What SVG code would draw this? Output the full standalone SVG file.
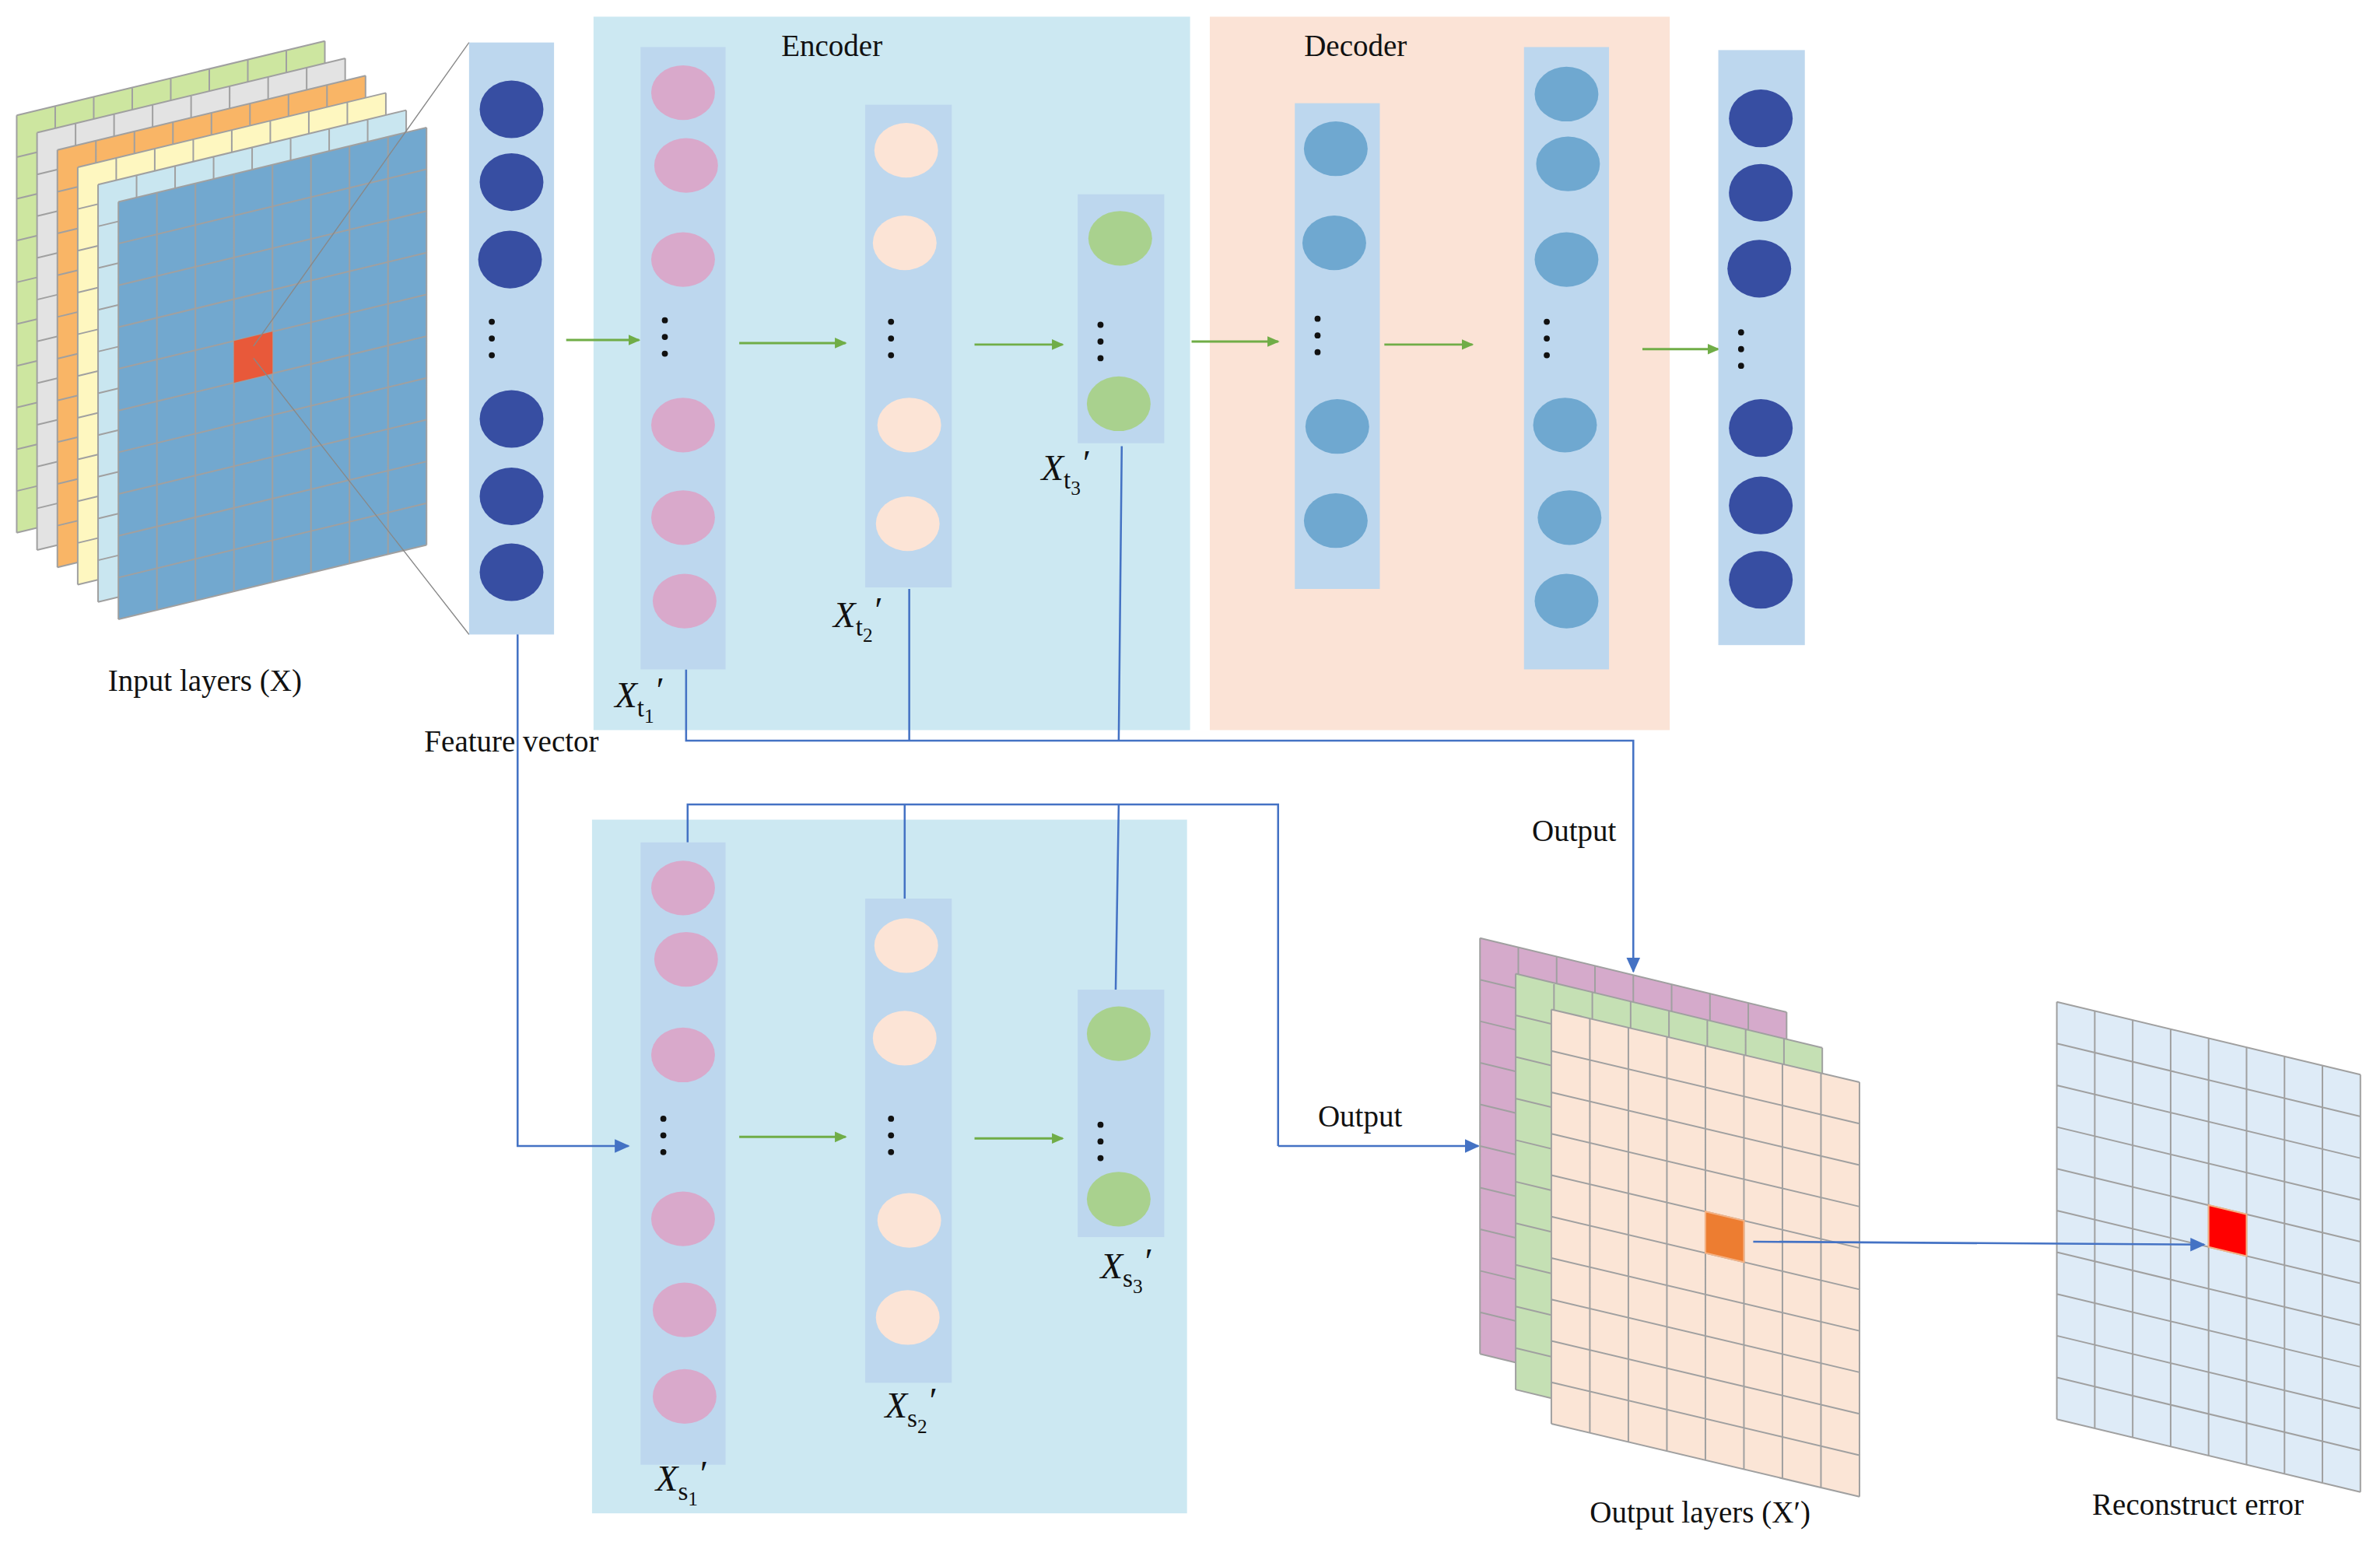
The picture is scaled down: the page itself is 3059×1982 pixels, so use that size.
<svg xmlns="http://www.w3.org/2000/svg" xmlns:xlink="http://www.w3.org/1999/xlink" width="3059" height="1982" viewBox="0 0 3059 1982">
<style>
.gl{stroke:#A0A0A0;stroke-width:2;vector-effect:non-scaling-stroke;fill:none}
.col{fill:#BDD7EE}
.nv{fill:#374EA2}.pk{fill:#D9A9CB}.pc{fill:#FCE4D6}.gr{fill:#A9D18E}.bl{fill:#6FA8D0}
.dot{fill:#111}
.ga{stroke:#70AD47;stroke-width:1.5;fill:none;marker-end:url(#ag)}
.ba{stroke:#4472C4;stroke-width:1.3;fill:none}
.bam{marker-end:url(#ab)}
.lbl{font-family:"Liberation Serif",serif;font-size:20px;fill:#111}
.mx{font-family:"Liberation Serif",serif;font-size:24px;font-style:italic;fill:#111}
.thin{stroke:#888;stroke-width:0.7;fill:none}
</style>
<defs>
<marker id="ag" markerWidth="8" markerHeight="8" refX="7" refY="4" orient="auto" markerUnits="userSpaceOnUse"><path d="M0,0.5 L8,4 L0,7.5z" fill="#70AD47"/></marker>
<marker id="ab" markerWidth="10" markerHeight="10" refX="9" refY="5" orient="auto" markerUnits="userSpaceOnUse"><path d="M0,0.5 L10,5 L0,9.5z" fill="#4472C4"/></marker>
<g id="grid">
<path class="gl" d="M0,0V10M1,0V10M2,0V10M3,0V10M4,0V10M5,0V10M6,0V10M7,0V10M8,0V10M0,0H8M0,1H8M0,2H8M0,3H8M0,4H8M0,5H8M0,6H8M0,7H8M0,8H8M0,9H8M0,10H8"/>
</g>
<g id="dots"><circle cx="0" cy="0" r="2"/><circle cx="0" cy="11" r="2"/><circle cx="0" cy="22" r="2"/></g>
</defs>
<rect width="3059" height="1982" fill="#fff"/>
<g transform="scale(1.951)">
<g id="input-layers">
<g transform="matrix(25.375,-6.125,0,27.5,11,76)"><rect width="8" height="10" fill="#CDE6A0"/><use xlink:href="#grid"/></g>
<g transform="matrix(25.375,-6.125,0,27.5,24.4,87.4)"><rect width="8" height="10" fill="#E3E3E3"/><use xlink:href="#grid"/></g>
<g transform="matrix(25.375,-6.125,0,27.5,37.8,98.8)"><rect width="8" height="10" fill="#F9B566"/><use xlink:href="#grid"/></g>
<g transform="matrix(25.375,-6.125,0,27.5,51.2,110.2)"><rect width="8" height="10" fill="#FEF7C0"/><use xlink:href="#grid"/></g>
<g transform="matrix(25.375,-6.125,0,27.5,64.6,121.6)"><rect width="8" height="10" fill="#C9E6F0"/><use xlink:href="#grid"/></g>
<g transform="matrix(25.375,-6.125,0,27.5,78,133)"><rect width="8" height="10" fill="#72A8CF"/><use xlink:href="#grid"/><rect x="3" y="4" width="1" height="1" fill="#E8593A"/></g>
<path class="thin" d="M167,228 L309,28 M167,236 L309,418"/>
<text class="lbl" x="135" y="455" text-anchor="middle">Input layers (X)</text>
</g>
<g id="encoder-panel"><rect x="391" y="11" width="393" height="470" fill="#CCE8F2"/><text class="lbl" x="548" y="37" text-anchor="middle">Encoder</text></g>
<g id="decoder-panel"><rect x="797" y="11" width="303" height="470" fill="#FBE3D6"/><text class="lbl" x="893" y="37" text-anchor="middle">Decoder</text></g>
<g id="bottom-panel"><rect x="390" y="540" width="392" height="457" fill="#CCE8F2"/></g>
<g id="connectors">
<path class="ga" d="M373,224H421"/><path class="ga" d="M487,226H557"/><path class="ga" d="M642,227H700"/><path class="ga" d="M785,225H842"/><path class="ga" d="M912,227H970"/><path class="ga" d="M1082,230H1132"/>
<path class="ga" d="M487,749H557"/><path class="ga" d="M642,750H700"/>
<path class="ba bam" d="M341,395V755H414"/>
<path class="ba bam" d="M452,441V488H1076V640"/>
<path class="ba" d="M599,388V488M739,294L737,488"/>
<path class="ba" d="M453,555V530H842V755"/>
<path class="ba bam" d="M842,755H974"/>
<path class="ba" d="M596,530V592M737,530L735,652"/>
</g>
<g id="feature-vector">
<rect class="col" x="309" y="28" width="56" height="390"/>
<ellipse class="nv" cx="337" cy="72" rx="21" ry="19"/><ellipse class="nv" cx="337" cy="120" rx="21" ry="19"/><ellipse class="nv" cx="336" cy="171" rx="21" ry="19"/>
<use xlink:href="#dots" x="324" y="212" class="dot"/>
<ellipse class="nv" cx="337" cy="276" rx="21" ry="19"/><ellipse class="nv" cx="337" cy="327" rx="21" ry="19"/><ellipse class="nv" cx="337" cy="377" rx="21" ry="19"/>
<text class="lbl" x="337" y="495" text-anchor="middle">Feature vector</text>
</g>
<g id="enc1">
<rect class="col" x="422" y="31" width="56" height="410"/>
<ellipse class="pk" cx="450" cy="61" rx="21" ry="18"/><ellipse class="pk" cx="452" cy="109" rx="21" ry="18"/><ellipse class="pk" cx="450" cy="171" rx="21" ry="18"/>
<use xlink:href="#dots" x="438" y="211" class="dot"/>
<ellipse class="pk" cx="450" cy="280" rx="21" ry="18"/><ellipse class="pk" cx="450" cy="341" rx="21" ry="18"/><ellipse class="pk" cx="451" cy="396" rx="21" ry="18"/>
<text class="mx" x="405" y="466">X<tspan font-style="normal" font-size="17" dy="6">t</tspan><tspan font-style="normal" font-size="13" dy="4">1</tspan><tspan dy="-13">′</tspan></text>
</g>
<g id="enc2">
<rect class="col" x="570" y="69" width="57" height="318"/>
<ellipse class="pc" cx="597" cy="99" rx="21" ry="18"/><ellipse class="pc" cx="596" cy="160" rx="21" ry="18"/>
<use xlink:href="#dots" x="587" y="212" class="dot"/>
<ellipse class="pc" cx="599" cy="280" rx="21" ry="18"/><ellipse class="pc" cx="598" cy="345" rx="21" ry="18"/>
<text class="mx" x="549" y="413">X<tspan font-style="normal" font-size="17" dy="6">t</tspan><tspan font-style="normal" font-size="13" dy="4">2</tspan><tspan dy="-13">′</tspan></text>
</g>
<g id="enc3">
<rect class="col" x="710" y="128" width="57" height="164"/>
<ellipse class="gr" cx="738" cy="157" rx="21" ry="18"/>
<use xlink:href="#dots" x="725" y="214" class="dot"/>
<ellipse class="gr" cx="737" cy="266" rx="21" ry="18"/>
<text class="mx" x="686" y="316">X<tspan font-style="normal" font-size="17" dy="6">t</tspan><tspan font-style="normal" font-size="13" dy="4">3</tspan><tspan dy="-13">′</tspan></text>
</g>
<g id="dec1">
<rect class="col" x="853" y="68" width="56" height="320"/>
<ellipse class="bl" cx="880" cy="98" rx="21" ry="18"/><ellipse class="bl" cx="879" cy="160" rx="21" ry="18"/>
<use xlink:href="#dots" x="868" y="210" class="dot"/>
<ellipse class="bl" cx="881" cy="281" rx="21" ry="18"/><ellipse class="bl" cx="880" cy="343" rx="21" ry="18"/>
</g>
<g id="dec2">
<rect class="col" x="1004" y="31" width="56" height="410"/>
<ellipse class="bl" cx="1032" cy="62" rx="21" ry="18"/><ellipse class="bl" cx="1033" cy="108" rx="21" ry="18"/><ellipse class="bl" cx="1032" cy="171" rx="21" ry="18"/>
<use xlink:href="#dots" x="1019" y="212" class="dot"/>
<ellipse class="bl" cx="1031" cy="280" rx="21" ry="18"/><ellipse class="bl" cx="1034" cy="341" rx="21" ry="18"/><ellipse class="bl" cx="1032" cy="396" rx="21" ry="18"/>
</g>
<g id="output-vector">
<rect class="col" x="1132" y="33" width="57" height="392"/>
<ellipse class="nv" cx="1160" cy="78" rx="21" ry="19"/><ellipse class="nv" cx="1160" cy="127" rx="21" ry="19"/><ellipse class="nv" cx="1159" cy="177" rx="21" ry="19"/>
<use xlink:href="#dots" x="1147" y="219" class="dot"/>
<ellipse class="nv" cx="1160" cy="282" rx="21" ry="19"/><ellipse class="nv" cx="1160" cy="333" rx="21" ry="19"/><ellipse class="nv" cx="1160" cy="382" rx="21" ry="19"/>
</g>
<g id="sp1">
<rect class="col" x="422" y="555" width="56" height="410"/>
<ellipse class="pk" cx="450" cy="585" rx="21" ry="18"/><ellipse class="pk" cx="452" cy="632" rx="21" ry="18"/><ellipse class="pk" cx="450" cy="695" rx="21" ry="18"/>
<use xlink:href="#dots" x="437" y="737" class="dot"/>
<ellipse class="pk" cx="450" cy="803" rx="21" ry="18"/><ellipse class="pk" cx="451" cy="863" rx="21" ry="18"/><ellipse class="pk" cx="451" cy="920" rx="21" ry="18"/>
<text class="mx" x="432" y="982">X<tspan font-style="normal" font-size="17" dy="6">s</tspan><tspan font-style="normal" font-size="13" dy="4">1</tspan><tspan dy="-13">′</tspan></text>
</g>
<g id="sp2">
<rect class="col" x="570" y="592" width="57" height="319"/>
<ellipse class="pc" cx="597" cy="623" rx="21" ry="18"/><ellipse class="pc" cx="596" cy="684" rx="21" ry="18"/>
<use xlink:href="#dots" x="587" y="737" class="dot"/>
<ellipse class="pc" cx="599" cy="804" rx="21" ry="18"/><ellipse class="pc" cx="598" cy="868" rx="21" ry="18"/>
<text class="mx" x="583" y="934">X<tspan font-style="normal" font-size="17" dy="6">s</tspan><tspan font-style="normal" font-size="13" dy="4">2</tspan><tspan dy="-13">′</tspan></text>
</g>
<g id="sp3">
<rect class="col" x="710" y="652" width="57" height="163"/>
<ellipse class="gr" cx="737" cy="681" rx="21" ry="18"/>
<use xlink:href="#dots" x="725" y="741" class="dot"/>
<ellipse class="gr" cx="737" cy="790" rx="21" ry="18"/>
<text class="mx" x="725" y="842">X<tspan font-style="normal" font-size="17" dy="6">s</tspan><tspan font-style="normal" font-size="13" dy="4">3</tspan><tspan dy="-13">′</tspan></text>
</g>
<g id="output-labels">
<text class="lbl" x="1037" y="554" text-anchor="middle">Output</text>
<text class="lbl" x="896" y="742" text-anchor="middle">Output</text>
</g>
<g id="output-layers">
<g transform="matrix(25.25,6.1,0,27.4,975,618)"><rect width="8" height="10" fill="#D5AACB"/><use xlink:href="#grid"/></g>
<g transform="matrix(25.25,6.1,0,27.4,998.5,641.5)"><rect width="8" height="10" fill="#C5E0B4"/><use xlink:href="#grid"/></g>
<g transform="matrix(25.375,6,0,27.3,1022,665)"><rect width="8" height="10" fill="#FBE5D6"/><use xlink:href="#grid"/><rect x="4" y="4" width="1" height="1" fill="#ED7D31" stroke="#F4B183" stroke-width="2" vector-effect="non-scaling-stroke"/></g>
<text class="lbl" x="1120" y="1003" text-anchor="middle">Output layers (X′)</text>
</g>
<g id="reconstruct-error">
<g transform="matrix(25,6,0,27.5,1355,660)"><rect width="8" height="10" fill="#DEEBF7"/><use xlink:href="#grid"/><rect x="4" y="4" width="1" height="1" fill="#FF0000" stroke="#F4B183" stroke-width="2" vector-effect="non-scaling-stroke"/></g>
<text class="lbl" x="1448" y="998" text-anchor="middle">Reconstruct error</text>
</g>
<path class="ba bam" d="M1155,818L1452,820"/>
</g>
</svg>
